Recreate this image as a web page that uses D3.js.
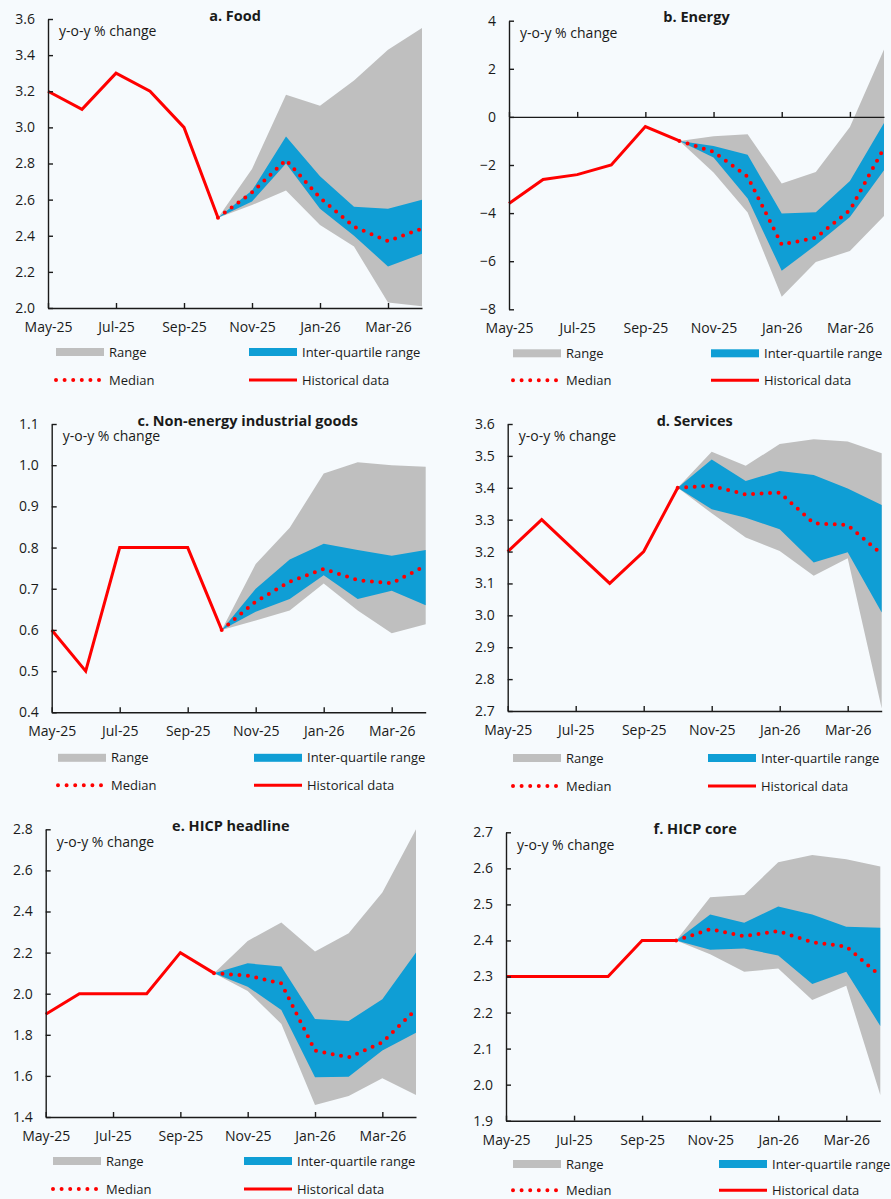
<!DOCTYPE html>
<html>
<head>
<meta charset="utf-8">
<script src="https://cdn.jsdelivr.net/npm/d3@7"></script>
<style>
  html, body { margin: 0; padding: 0; background: #f6fafd; }
  svg { display: block; }
</style>
</head>
<body>
<script>
// ---------------- DATA ----------------
const months = ["May-25","Jun-25","Jul-25","Aug-25","Sep-25","Oct-25","Nov-25","Dec-25","Jan-26","Feb-26","Mar-26","Apr-26"];
const tickMonths = ["May-25","Jul-25","Sep-25","Nov-25","Jan-26","Mar-26"];
const histMonths = months.slice(0, 6);      // May-25 .. Oct-25
const forecastMonths = months.slice(5);     // Oct-25 .. Apr-26

const legendLabels = ["Range", "Inter-quartile range", "Median", "Historical data"];
const yLabel = "y-o-y % change";

// a. Food
const foodHist = [3.2, 3.1, 3.3, 3.2, 3.0, 2.5];
const foodMin  = [2.5, 2.57, 2.65, 2.46, 2.34, 2.03, 2.01];
const foodMax  = [2.5, 2.77, 3.18, 3.12, 3.26, 3.43, 3.55];
const foodQ1   = [2.5, 2.59, 2.80, 2.55, 2.40, 2.23, 2.30];
const foodQ3   = [2.5, 2.65, 2.95, 2.73, 2.56, 2.55, 2.60];
const foodMed  = [2.5, 2.64, 2.82, 2.61, 2.45, 2.37, 2.44];
const foodTicks = [2.0, 2.2, 2.4, 2.6, 2.8, 3.0, 3.2, 3.4, 3.6];

// b. Energy
const energyHist = [-3.6, -2.6, -2.4, -2.0, -0.4, -1.0];
const energyMin  = [-1.0, -2.31, -3.98, -7.48, -6.03, -5.58, -4.12];
const energyMax  = [-1.0, -0.80, -0.72, -2.77, -2.29, -0.42, 2.80];
const energyQ1   = [-1.0, -1.69, -3.39, -6.40, -5.33, -4.16, -2.22];
const energyQ3   = [-1.0, -1.21, -1.57, -4.02, -3.96, -2.67, -0.25];
const energyMed  = [-1.0, -1.45, -2.49, -5.31, -5.02, -3.88, -1.29];
const energyTicks = [-8, -6, -4, -2, 0, 2, 4];

// c. Non-energy industrial goods
const neigHist = [0.6, 0.5, 0.8, 0.8, 0.8, 0.6];
const neigMin  = [0.6, 0.623, 0.647, 0.713, 0.647, 0.592, 0.614];
const neigMax  = [0.6, 0.760, 0.848, 0.980, 1.007, 1.000, 0.996];
const neigQ1   = [0.6, 0.644, 0.675, 0.733, 0.675, 0.695, 0.660];
const neigQ3   = [0.6, 0.700, 0.771, 0.809, 0.794, 0.780, 0.794];
const neigMed  = [0.6, 0.669, 0.717, 0.748, 0.721, 0.713, 0.756];
const neigTicks = [0.4, 0.5, 0.6, 0.7, 0.8, 0.9, 1.0, 1.1];

// d. Services
const servHist = [3.2, 3.3, 3.2, 3.1, 3.2, 3.4];
const servMin  = [3.4, 3.320, 3.244, 3.202, 3.124, 3.179, 2.708];
const servMax  = [3.4, 3.513, 3.469, 3.537, 3.552, 3.545, 3.508];
const servQ1   = [3.4, 3.333, 3.306, 3.270, 3.166, 3.198, 3.009];
const servQ3   = [3.4, 3.489, 3.421, 3.453, 3.440, 3.398, 3.346];
const servMed  = [3.4, 3.406, 3.379, 3.385, 3.289, 3.283, 3.192];
const servTicks = [2.7, 2.8, 2.9, 3.0, 3.1, 3.2, 3.3, 3.4, 3.5, 3.6];

// e. HICP headline
const headHist = [1.9, 2.0, 2.0, 2.0, 2.2, 2.1];
const headMin  = [2.1, 2.013, 1.853, 1.458, 1.502, 1.588, 1.507];
const headMax  = [2.1, 2.257, 2.347, 2.205, 2.294, 2.492, 2.800];
const headQ1   = [2.1, 2.034, 1.921, 1.593, 1.596, 1.723, 1.810];
const headQ3   = [2.1, 2.148, 2.132, 1.877, 1.867, 1.973, 2.200];
const headMed  = [2.1, 2.088, 2.050, 1.723, 1.690, 1.763, 1.924];
const headTicks = [1.4, 1.6, 1.8, 2.0, 2.2, 2.4, 2.6, 2.8];

// f. HICP core
const coreHist = [2.3, 2.3, 2.3, 2.3, 2.4, 2.4];
const coreMin  = [2.4, 2.362, 2.313, 2.322, 2.235, 2.274, 1.971];
const coreMax  = [2.4, 2.520, 2.526, 2.617, 2.637, 2.625, 2.605];
const coreQ1   = [2.4, 2.374, 2.378, 2.358, 2.279, 2.313, 2.163];
const coreQ3   = [2.4, 2.472, 2.449, 2.494, 2.472, 2.438, 2.435];
const coreMed  = [2.4, 2.431, 2.412, 2.426, 2.395, 2.383, 2.302];
const coreTicks = [1.9, 2.0, 2.1, 2.2, 2.3, 2.4, 2.5, 2.6, 2.7];

// ---------------- PANELS (data refs + layout) ----------------
const panels = [
  {title: "a. Food", hist: foodHist, lo: foodMin, hi: foodMax, q1: foodQ1, q3: foodQ3, med: foodMed, ticks: foodTicks, fmt: ".1f",
   x0: 48, x1: 422, yTop: 19, yBot: 308, leg1: 56, leg2: 249, titleDx: 0, legR1: 44, legR2: 72},
  {title: "b. Energy", hist: energyHist, lo: energyMin, hi: energyMax, q1: energyQ1, q3: energyQ3, med: energyMed, ticks: energyTicks, fmt: "d",
   x0: 509, x1: 884, yTop: 20.7, yBot: 309.3, leg1: 513, leg2: 711, titleDx: 0, legR1: 44, legR2: 71},
  {title: "c. Non-energy industrial goods", hist: neigHist, lo: neigMin, hi: neigMax, q1: neigQ1, q3: neigQ3, med: neigMed, ticks: neigTicks, fmt: ".1f",
   x0: 51.7, x1: 425.7, yTop: 424, yBot: 712.3, leg1: 58, leg2: 254, titleDx: 9, legR1: 45.5, legR2: 73},
  {title: "d. Services", hist: servHist, lo: servMin, hi: servMax, q1: servQ1, q3: servQ3, med: servMed, ticks: servTicks, fmt: ".1f",
   x0: 507.7, x1: 881.7, yTop: 424, yBot: 711, leg1: 513, leg2: 708, titleDx: 0, legR1: 47, legR2: 75},
  {title: "e. HICP headline", hist: headHist, lo: headMin, hi: headMax, q1: headQ1, q3: headQ3, med: headMed, ticks: headTicks, fmt: ".1f",
   x0: 45.7, x1: 416, yTop: 829.3, yBot: 1117, leg1: 53, leg2: 244, titleDx: 0, legR1: 44, legR2: 72},
  {title: "f. HICP core", hist: coreHist, lo: coreMin, hi: coreMax, q1: coreQ1, q3: coreQ3, med: coreMed, ticks: coreTicks, fmt: ".1f",
   x0: 506, x1: 880.3, yTop: 832.3, yBot: 1120.7, leg1: 513, leg2: 719, titleDx: 2, legR1: 43.3, legR2: 69.5}
];

// ---------------- STYLE ----------------
const BG = "#f6fafd", GREY = "#bfbfbf", BLUE = "#0f9ed5", RED = "#ff0000", INK = "#1a1a1a";
const FONT = "'Open Sans', 'DejaVu Sans', sans-serif";

const W = 891, H = 1199;
const svg = d3.select("body").append("svg").attr("width", W).attr("height", H);
svg.append("rect").attr("width", W).attr("height", H).attr("fill", BG);

panels.forEach(p => {
  const g = svg.append("g");
  const x = d3.scalePoint().domain(months).range([p.x0, p.x1]).padding(0);
  const yMin = d3.min(p.ticks), yMax = d3.max(p.ticks);
  const y = d3.scaleLinear().domain([yMin, yMax]).range([p.yBot, p.yTop]);

  const fc = forecastMonths.map((m, i) => ({m, lo: p.lo[i], hi: p.hi[i], q1: p.q1[i], q3: p.q3[i], med: p.med[i]}));
  const hist = histMonths.map((m, i) => ({m, v: p.hist[i]}));

  // Range
  g.append("path").datum(fc)
    .attr("fill", GREY)
    .attr("d", d3.area().x(d => x(d.m)).y0(d => y(d.lo)).y1(d => y(d.hi)));
  // IQR
  g.append("path").datum(fc)
    .attr("fill", BLUE)
    .attr("d", d3.area().x(d => x(d.m)).y0(d => y(d.q1)).y1(d => y(d.q3)));

  // Historical line
  g.append("path").datum(hist)
    .attr("fill", "none").attr("stroke", RED).attr("stroke-width", 3)
    .attr("stroke-linejoin", "miter")
    .attr("d", d3.line().x(d => x(d.m)).y(d => y(d.v)));

  // Median (dotted)
  g.append("path").datum(fc)
    .attr("fill", "none").attr("stroke", RED).attr("stroke-width", 4)
    .attr("stroke-linecap", "round").attr("stroke-dasharray", "0 8.5")
    .attr("d", d3.line().x(d => x(d.m)).y(d => y(d.med)));

  // Baseline x-axis (at 0 if domain spans 0, else at bottom) with inward ticks
  const base = (yMin < 0 && yMax > 0) ? 0 : yMin;
  const xAxisLine = g.append("g")
    .attr("transform", `translate(0,${y(base)})`)
    .call(d3.axisBottom(x).tickValues(tickMonths).tickSize(-5).tickSizeOuter(0).tickFormat(""));
  xAxisLine.attr("color", INK);
  xAxisLine.selectAll("path, line").attr("stroke-width", 1.4);

  // X labels at bottom
  const xLab = g.append("g")
    .attr("transform", `translate(0,${y(yMin)})`)
    .call(d3.axisBottom(x).tickValues(tickMonths).tickSize(0).tickPadding(14));
  xLab.select(".domain").remove();
  xLab.selectAll("text").attr("font-family", FONT).attr("font-size", 14).attr("fill", INK);

  // Y axis
  const yAx = g.append("g")
    .attr("transform", `translate(${p.x0},0)`)
    .call(d3.axisLeft(y).tickValues(p.ticks).tickSize(-5).tickSizeOuter(0).tickPadding(13).tickFormat(d3.format(p.fmt)));
  yAx.attr("color", INK);
  yAx.selectAll("path, line").attr("stroke-width", 1.4);
  yAx.selectAll("text").attr("font-family", FONT).attr("font-size", 14).attr("fill", INK);

  // Title
  g.append("text")
    .attr("x", (p.x0 + p.x1) / 2 + p.titleDx).attr("y", p.yTop - 3.3)
    .attr("dy", "0.35em").attr("text-anchor", "middle")
    .attr("font-family", FONT).attr("font-size", 14.5).attr("font-weight", "bold").attr("fill", INK)
    .text(p.title);

  // y-label
  g.append("text")
    .attr("x", p.x0 + 11).attr("y", p.yTop + 12.5).attr("dy", "0.35em")
    .attr("font-family", FONT).attr("font-size", 14).attr("fill", INK)
    .text(yLabel);

  // Legend
  const r1 = p.yBot + p.legR1, r2 = p.yBot + p.legR2, sw = 48;
  const lg = g.append("g");
  lg.append("rect").attr("x", p.leg1).attr("y", r1 - 4).attr("width", sw).attr("height", 8).attr("fill", GREY);
  lg.append("rect").attr("x", p.leg2).attr("y", r1 - 4).attr("width", sw).attr("height", 8).attr("fill", BLUE);
  lg.append("line").attr("x1", p.leg1).attr("x2", p.leg1 + 44).attr("y1", r2).attr("y2", r2)
    .attr("stroke", RED).attr("stroke-width", 4).attr("stroke-linecap", "round").attr("stroke-dasharray", "0 8.6");
  lg.append("line").attr("x1", p.leg2).attr("x2", p.leg2 + sw).attr("y1", r2).attr("y2", r2)
    .attr("stroke", RED).attr("stroke-width", 3);
  const lt = [[p.leg1 + sw + 5, r1, legendLabels[0]], [p.leg2 + sw + 5, r1, legendLabels[1]],
              [p.leg1 + sw + 5, r2, legendLabels[2]], [p.leg2 + sw + 5, r2, legendLabels[3]]];
  lt.forEach(([tx, ty, s]) => {
    lg.append("text").attr("x", tx).attr("y", ty).attr("dy", "0.35em")
      .attr("font-family", FONT).attr("font-size", 13).attr("fill", INK).text(s);
  });
});
</script>
</body>
</html>
